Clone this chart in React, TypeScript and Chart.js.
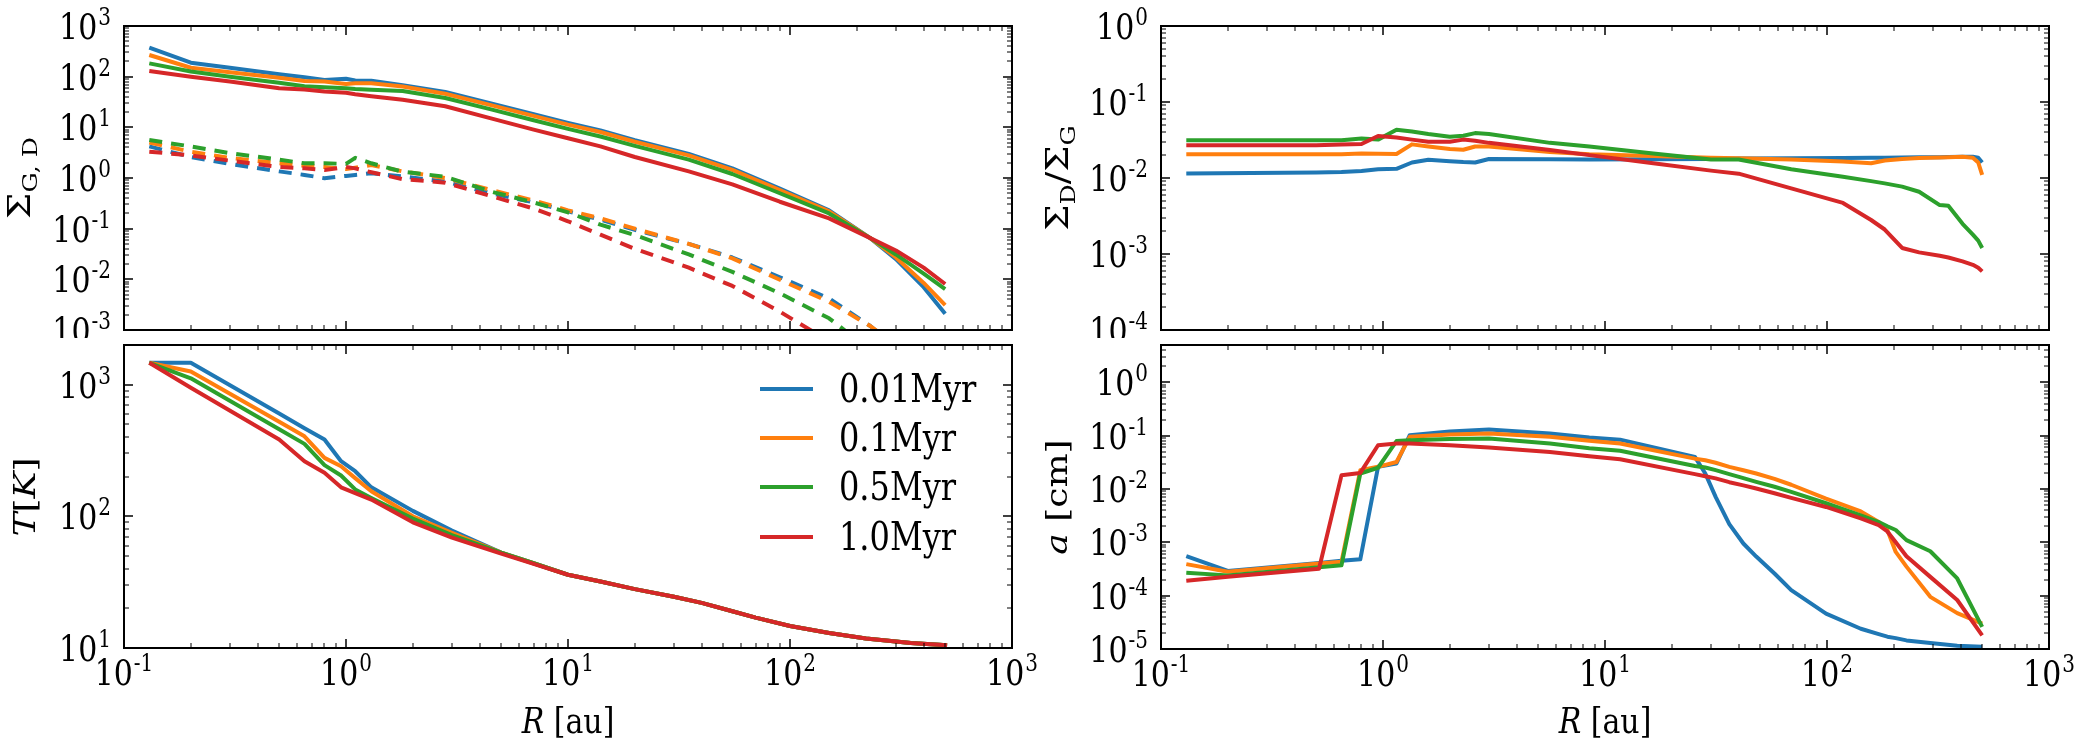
import React, { useEffect, useRef } from "react";
import { Chart, registerables } from "chart.js";

Chart.register(...registerables);

// ---------------- data ----------------
const SERIES_LABELS = ["0.01Myr", "0.1Myr", "0.5Myr", "1.0Myr"];
const COLORS = ["#1f77b4", "#ff7f0e", "#2ca02c", "#d62728"];

const X_TICK_EXPS = ["-1", "0", "1", "2", "3"];
const SIGMA_TICK_EXPS = ["-3", "-2", "-1", "0", "1", "2", "3"];
const TEMP_TICK_EXPS = ["1", "2", "3"];
const RATIO_TICK_EXPS = ["-4", "-3", "-2", "-1", "0"];
const SIZE_TICK_EXPS = ["-5", "-4", "-3", "-2", "-1", "0"];

// surface densities (gas solid, dust dashed)
const R_SIGMA = [0.13, 0.2, 0.3, 0.5, 0.65, 0.8, 1.0, 1.1, 1.3, 1.8, 2.8, 4.5, 7, 10, 14, 20, 35, 55, 90, 150, 230, 300, 400, 500];
const GAS_001 = [373, 189, 150, 112, 97, 86, 91, 84, 83, 68, 50, 29.7, 18.1, 12.2, 8.7, 5.6, 3.0, 1.55, 0.62, 0.23, 0.065, 0.025, 0.007, 0.0021];
const GAS_01 = [268, 150, 122, 95, 82, 80, 72, 74, 74, 64, 46, 27.5, 16.8, 11.3, 8.1, 5.2, 2.8, 1.45, 0.58, 0.22, 0.065, 0.027, 0.0085, 0.0031];
const GAS_05 = [183, 126, 100, 76, 65, 62, 59, 57, 55, 52, 38, 22.6, 13.8, 9.3, 6.6, 4.3, 2.3, 1.2, 0.5, 0.2, 0.065, 0.031, 0.013, 0.0064];
const GAS_10 = [129, 100, 80, 59, 56, 51, 48, 45, 41, 35, 26, 15, 9, 6.1, 4.2, 2.6, 1.35, 0.75, 0.34, 0.16, 0.065, 0.037, 0.017, 0.0081];
const DUST_001 = [4.2, 2.6, 1.9, 1.35, 1.15, 0.99, 1.1, 1.15, 1.24, 1.07, 0.85, 0.5, 0.33, 0.22, 0.15, 0.095, 0.05, 0.027, 0.011, 0.0042, 0.0012, 0.00046, 0.00013, 0.000034];
const DUST_01 = [5.0, 3.3, 2.5, 1.95, 1.75, 1.65, 1.5, 1.6, 1.8, 1.35, 1.0, 0.58, 0.36, 0.23, 0.16, 0.1, 0.05, 0.026, 0.0098, 0.0036, 0.0012, 0.0005, 0.00016, 0.000034];
const DUST_05 = [5.6, 4.2, 3.1, 2.3, 1.95, 1.95, 1.9, 2.5, 1.95, 1.33, 1.06, 0.54, 0.33, 0.21, 0.12, 0.075, 0.031, 0.014, 0.0053, 0.0017, 0.0004, 0.00014, 0.00003, 0.000008];
const DUST_10 = [3.3, 2.8, 2.2, 1.65, 1.55, 1.44, 1.65, 1.55, 1.3, 0.95, 0.81, 0.44, 0.25, 0.14, 0.076, 0.04, 0.017, 0.0074, 0.0023, 0.0006, 0.00012, 0.00004, 0.000015, 0.000005];

// temperature
const R_TEMP = [0.13, 0.2, 0.5, 0.65, 0.8, 0.95, 1.1, 1.3, 2, 3, 5, 7, 10, 14, 20, 30, 40, 55, 70, 100, 150, 220, 350, 510];
const T_001 = [1466, 1466, 604, 467, 383, 262, 220, 166, 110, 78, 53, 44, 36, 32, 28, 24.5, 22, 19, 17, 14.7, 13, 11.8, 10.9, 10.5];
const T_01 = [1466, 1260, 522, 405, 278, 240, 195, 155, 100, 75, 53, 44, 36, 32, 28, 24.5, 22, 19, 17, 14.7, 13, 11.8, 10.9, 10.5];
const T_05 = [1466, 1117, 458, 355, 245, 204, 160, 138, 96, 72, 53, 44, 36, 32, 28, 24.5, 22, 19, 17, 14.7, 13, 11.8, 10.9, 10.5];
const T_10 = [1466, 948, 383, 262, 214, 166, 150, 134, 90, 69, 52, 43.5, 36, 32, 28, 24.5, 22, 19, 17, 14.7, 13, 11.8, 10.9, 10.5];

// dust-to-gas ratio
const R_RATIO = [0.13, 0.5, 0.65, 0.8, 0.95, 1.15, 1.35, 1.6, 2.0, 2.3, 2.6, 3.0, 5.65, 8.5, 16.5, 30, 40, 69, 118, 158, 182, 218, 260, 322, 352, 408, 454, 480, 500];
const RATIO_001 = [0.0115, 0.0118, 0.012, 0.0124, 0.013, 0.0132, 0.016, 0.0174, 0.0166, 0.0162, 0.016, 0.0178, 0.0176, 0.0175, 0.0176, 0.0178, 0.018, 0.0182, 0.0183, 0.0184, 0.0185, 0.0186, 0.0187, 0.0188, 0.0189, 0.019, 0.019, 0.0185, 0.016];
const RATIO_01 = [0.0205, 0.0205, 0.0205, 0.021, 0.0209, 0.0207, 0.0277, 0.026, 0.024, 0.0235, 0.026, 0.026, 0.022, 0.0205, 0.0195, 0.0185, 0.0182, 0.0175, 0.0165, 0.0156, 0.017, 0.0178, 0.0183, 0.0186, 0.0188, 0.019, 0.0185, 0.016, 0.011];
const RATIO_05 = [0.0313, 0.0313, 0.0313, 0.033, 0.032, 0.043, 0.041, 0.038, 0.035, 0.036, 0.039, 0.038, 0.029, 0.026, 0.021, 0.0175, 0.0175, 0.013, 0.0104, 0.0091, 0.0085, 0.0077, 0.0066, 0.0044, 0.0043, 0.0025, 0.0018, 0.0015, 0.0012];
const RATIO_10 = [0.027, 0.027, 0.0275, 0.028, 0.0357, 0.034, 0.032, 0.03, 0.03, 0.032, 0.031, 0.029, 0.0234, 0.02, 0.0156, 0.0125, 0.0114, 0.0073, 0.0047, 0.0028, 0.0021, 0.0012, 0.00105, 0.00095, 0.0009, 0.0008, 0.00072, 0.00066, 0.00059];

// grain size
const R_SIZE = [0.13, 0.2, 0.515, 0.65, 0.79, 0.95, 1.15, 1.32, 2, 3, 5.65, 8.5, 11.7, 25.4, 28.3, 31.5, 36.3, 42, 48, 58, 69, 99, 142, 171, 187, 204, 228, 292, 386, 500];
const SIZE_001 = [5.5e-4, 2.9e-4, 4.1e-4, 4.5e-4, 4.8e-4, 0.026, 0.03, 0.102, 0.12, 0.13, 0.11, 0.092, 0.084, 0.04, 0.0195, 0.0071, 0.0022, 9.5e-4, 5.4e-4, 2.6e-4, 1.27e-4, 4.6e-5, 2.4e-5, 1.9e-5, 1.7e-5, 1.6e-5, 1.45e-5, 1.3e-5, 1.15e-5, 1.1e-5];
const SIZE_01 = [3.9e-4, 2.8e-4, 4.0e-4, 4.3e-4, 0.0224, 0.026, 0.032, 0.095, 0.105, 0.11, 0.095, 0.08, 0.071, 0.037, 0.0345, 0.031, 0.026, 0.0225, 0.0195, 0.0155, 0.012, 0.0066, 0.0038, 0.0024, 0.0017, 6.6e-4, 3.5e-4, 9.5e-5, 4.7e-5, 3e-5];
const SIZE_05 = [2.7e-4, 2.4e-4, 3.4e-4, 3.7e-4, 0.0195, 0.025, 0.079, 0.082, 0.086, 0.088, 0.071, 0.058, 0.052, 0.027, 0.0253, 0.0225, 0.019, 0.016, 0.0136, 0.011, 0.0088, 0.0054, 0.0032, 0.0024, 0.002, 0.0017, 0.0011, 6.8e-4, 2.1e-4, 2.6e-5];
const SIZE_10 = [1.9e-4, 2.26e-4, 3.2e-4, 0.018, 0.02, 0.066, 0.071, 0.071, 0.066, 0.06, 0.0495, 0.041, 0.036, 0.019, 0.0173, 0.0158, 0.0134, 0.0117, 0.0102, 0.0083, 0.0068, 0.0046, 0.0028, 0.0021, 0.0016, 0.001, 5.5e-4, 2.25e-4, 8.3e-5, 1.8e-5];

// ---------------- styling ----------------
const SERIF = "'DejaVu Serif', serif";
const TICK_FONT = 30;
const EXP_FONT = 20;
const LINE_W = 4;
const TEXT_SY = 1.2; // vertical stretch of glyphs seen in the reference

type Run = { t: string; font: string; dy?: number };

function series(R: number[], vals: number[], i: number, dashed = false) {
  return {
    label: SERIES_LABELS[i] + (dashed ? " (dust)" : ""),
    data: R.map((r, j) => ({ x: r, y: vals[j] })),
    borderColor: COLORS[i],
    backgroundColor: COLORS[i],
    borderWidth: LINE_W,
    borderDash: dashed ? [13, 9] : [],
    borderJoinStyle: "round",
    pointRadius: 0,
    tension: 0,
    fill: false,
    order: 3 - i,
  };
}

type PanelSpec = {
  key: string;
  left: number;
  top: number;
  width: number;
  height: number;
  area: [number, number, number, number];
  yMin: number;
  yMax: number;
  yTickExps: string[];
  xLabels: boolean;
  yTitle: Run[];
  yTitlePos: [number, number];
  xTitlePos?: [number, number];
  legend?: boolean;
  datasets: any[];
};

const italic = (px: number) => `italic ${px}px ${SERIF}`;
const roman = (px: number) => `${px}px ${SERIF}`;

const PANELS: PanelSpec[] = [
  {
    key: "sigma",
    left: 0, top: 0, width: 1045, height: 338,
    area: [124, 26, 1012, 330],
    yMin: 1e-3, yMax: 1e3,
    yTickExps: SIGMA_TICK_EXPS,
    xLabels: false,
    yTitle: [{ t: "Σ", font: roman(31) }, { t: "G, D", font: roman(21), dy: 7 }],
    yTitlePos: [20, 178],
    datasets: [
      series(R_SIGMA, GAS_001, 0), series(R_SIGMA, GAS_01, 1), series(R_SIGMA, GAS_05, 2), series(R_SIGMA, GAS_10, 3),
      series(R_SIGMA, DUST_001, 0, true), series(R_SIGMA, DUST_01, 1, true), series(R_SIGMA, DUST_05, 2, true), series(R_SIGMA, DUST_10, 3, true),
    ],
  },
  {
    key: "temp",
    left: 0, top: 338, width: 1045, height: 409,
    area: [124, 345, 1012, 648],
    yMin: 10, yMax: 2000,
    yTickExps: TEMP_TICK_EXPS,
    xLabels: true,
    yTitle: [{ t: "T", font: italic(30) }, { t: "[", font: roman(30) }, { t: "K", font: italic(30) }, { t: "]", font: roman(30) }],
    yTitlePos: [25, 497],
    xTitlePos: [568, 722],
    legend: true,
    datasets: [series(R_TEMP, T_001, 0), series(R_TEMP, T_01, 1), series(R_TEMP, T_05, 2), series(R_TEMP, T_10, 3)],
  },
  {
    key: "ratio",
    left: 1045, top: 0, width: 1046, height: 338,
    area: [1161, 26, 2049, 330],
    yMin: 1e-4, yMax: 1,
    yTickExps: RATIO_TICK_EXPS,
    xLabels: false,
    yTitle: [
      { t: "Σ", font: roman(31) }, { t: "D", font: roman(21), dy: 7 },
      { t: "/", font: roman(31) },
      { t: "Σ", font: roman(31) }, { t: "G", font: roman(21), dy: 7 },
    ],
    yTitlePos: [1058, 178],
    datasets: [series(R_RATIO, RATIO_001, 0), series(R_RATIO, RATIO_01, 1), series(R_RATIO, RATIO_05, 2), series(R_RATIO, RATIO_10, 3)],
  },
  {
    key: "size",
    left: 1045, top: 338, width: 1046, height: 409,
    area: [1161, 345, 2049, 649],
    yMin: 1e-5, yMax: 5,
    yTickExps: SIZE_TICK_EXPS,
    xLabels: true,
    yTitle: [{ t: "a", font: italic(30) }, { t: " [cm]", font: roman(30) }],
    yTitlePos: [1057, 497],
    xTitlePos: [1605, 722],
    datasets: [series(R_SIZE, SIZE_001, 0), series(R_SIZE, SIZE_01, 1), series(R_SIZE, SIZE_05, 2), series(R_SIZE, SIZE_10, 3)],
  },
];

// ---------------- drawing helpers ----------------
function runsWidth(ctx: CanvasRenderingContext2D, runs: Run[]) {
  let w = 0;
  for (const r of runs) {
    ctx.font = r.font;
    w += ctx.measureText(r.t).width;
  }
  return w;
}

// text drawn with a vertical (screen) stretch
function stretchedText(ctx: CanvasRenderingContext2D, t: string, x: number, baseline: number) {
  ctx.save();
  ctx.translate(x, baseline);
  ctx.scale(1, TEXT_SY);
  ctx.fillText(t, 0, 0);
  ctx.restore();
}

function drawRuns(ctx: CanvasRenderingContext2D, runs: Run[], cx: number, cy: number, rotate: boolean, baseShift: number) {
  ctx.save();
  ctx.translate(cx, cy);
  ctx.scale(1, TEXT_SY);
  if (rotate) ctx.rotate(-Math.PI / 2);
  const w = runsWidth(ctx, runs);
  let x = -w / 2;
  ctx.textBaseline = "alphabetic";
  ctx.textAlign = "left";
  for (const r of runs) {
    ctx.font = r.font;
    ctx.fillText(r.t, x, baseShift + (r.dy || 0));
    x += ctx.measureText(r.t).width;
  }
  ctx.restore();
}

function drawPow(ctx: CanvasRenderingContext2D, x: number, baseline: number, exp: string, align: "center" | "right") {
  ctx.textBaseline = "alphabetic";
  ctx.textAlign = "left";
  ctx.font = roman(TICK_FONT);
  const wb = ctx.measureText("10").width;
  ctx.font = roman(EXP_FONT);
  const we = ctx.measureText(exp).width;
  const total = wb + 1 + we;
  const x0 = align === "center" ? x - total / 2 : x - total;
  ctx.font = roman(TICK_FONT);
  stretchedText(ctx, "10", x0, baseline);
  ctx.font = roman(EXP_FONT);
  stretchedText(ctx, exp, x0 + wb + 1, baseline - 14);
}

function line(ctx: CanvasRenderingContext2D, x1: number, y1: number, x2: number, y2: number) {
  ctx.beginPath();
  ctx.moveTo(x1, y1);
  ctx.lineTo(x2, y2);
  ctx.stroke();
}

function makeDecor(spec: PanelSpec) {
  return {
    id: "decor_" + spec.key,
    afterDraw(chart: any) {
      const ctx: CanvasRenderingContext2D = chart.ctx;
      const xs = chart.scales.x;
      const ys = chart.scales.y;
      const { left: x0, right: x1, top: y0, bottom: y1 } = chart.chartArea;
      ctx.save();
      ctx.strokeStyle = "#000";
      ctx.fillStyle = "#000";
      ctx.setLineDash([]);

      // x ticks (bottom & top, pointing in)
      for (let k = -1; k <= 3; k++) {
        for (let m = 1; m <= 9; m++) {
          const v = m * Math.pow(10, k);
          if (v > 1000 * 1.0001) continue;
          const px = Math.round(xs.getPixelForValue(v));
          const major = m === 1;
          const len = major ? 9 : 5;
          ctx.lineWidth = major ? 1.5 : 1;
          line(ctx, px, y1, px, y1 - len);
          line(ctx, px, y0, px, y0 + len);
        }
      }
      // y ticks (left & right)
      const kMin = Math.floor(Math.log10(spec.yMin) + 1e-9);
      const kMax = Math.ceil(Math.log10(spec.yMax) - 1e-9);
      for (let k = kMin; k <= kMax; k++) {
        for (let m = 1; m <= 9; m++) {
          const v = m * Math.pow(10, k);
          if (v < spec.yMin * 0.9999 || v > spec.yMax * 1.0001) continue;
          const py = Math.round(ys.getPixelForValue(v));
          const major = m === 1;
          const len = major ? 9 : 5;
          ctx.lineWidth = major ? 1.5 : 1;
          line(ctx, x0, py, x0 + len, py);
          line(ctx, x1, py, x1 - len, py);
        }
      }

      // frame
      ctx.lineWidth = 2;
      ctx.strokeRect(x0, y0, x1 - x0, y1 - y0);

      // y tick labels
      for (const e of spec.yTickExps) {
        const py = ys.getPixelForValue(Math.pow(10, Number(e)));
        drawPow(ctx, x0 - 13, py + 13, e, "right");
      }
      // x tick labels
      if (spec.xLabels) {
        for (const e of X_TICK_EXPS) {
          const px = xs.getPixelForValue(Math.pow(10, Number(e)));
          drawPow(ctx, px, y1 + 37, e, "center");
        }
      }

      // titles (page -> canvas coords)
      const [tx, ty] = spec.yTitlePos;
      drawRuns(ctx, spec.yTitle, tx - spec.left, ty - spec.top, true, 10);
      if (spec.xTitlePos) {
        const [ax, ay] = spec.xTitlePos;
        drawRuns(ctx, [{ t: "R", font: italic(30) }, { t: " [au]", font: roman(30) }], ax - spec.left, ay - spec.top, false, 9);
      }

      // legend
      if (spec.legend) {
        const rows = [389, 438, 487, 537];
        ctx.font = roman(32);
        ctx.textBaseline = "alphabetic";
        ctx.textAlign = "left";
        rows.forEach((ry, i) => {
          const y = ry - spec.top;
          ctx.strokeStyle = COLORS[i];
          ctx.lineWidth = LINE_W;
          line(ctx, 760 - spec.left, y, 813 - spec.left, y);
          ctx.fillStyle = "#000";
          stretchedText(ctx, SERIES_LABELS[i], 839 - spec.left, y + 13);
        });
      }
      ctx.restore();
    },
  };
}

function Panel({ spec }: { spec: PanelSpec }) {
  const ref = useRef<HTMLCanvasElement>(null);
  useEffect(() => {
    const canvas = ref.current;
    if (!canvas) return;
    const [ax0, ay0, ax1, ay1] = spec.area;
    const chart = new Chart(canvas, {
      type: "line",
      data: { datasets: spec.datasets },
      options: {
        responsive: false,
        maintainAspectRatio: false,
        animation: false,
        devicePixelRatio: 1,
        events: [],
        layout: {
          padding: {
            left: ax0 - spec.left,
            top: ay0 - spec.top,
            right: spec.left + spec.width - ax1,
            bottom: spec.top + spec.height - ay1,
          },
        },
        plugins: { legend: { display: false }, tooltip: { enabled: false } },
        scales: {
          x: { type: "logarithmic", min: 0.1, max: 1000, display: false },
          y: { type: "logarithmic", min: spec.yMin, max: spec.yMax, display: false },
        },
      } as any,
      plugins: [makeDecor(spec)],
    });
    return () => chart.destroy();
  }, [spec]);
  return (
    <canvas
      ref={ref}
      width={spec.width}
      height={spec.height}
      style={{ position: "absolute", left: spec.left, top: spec.top, width: spec.width, height: spec.height }}
    />
  );
}

export default function App() {
  return (
    <div style={{ position: "fixed", left: 0, top: 0, width: 2091, height: 747, background: "#fff", overflow: "hidden" }}>
      {PANELS.map((p) => (
        <Panel key={p.key} spec={p} />
      ))}
    </div>
  );
}
